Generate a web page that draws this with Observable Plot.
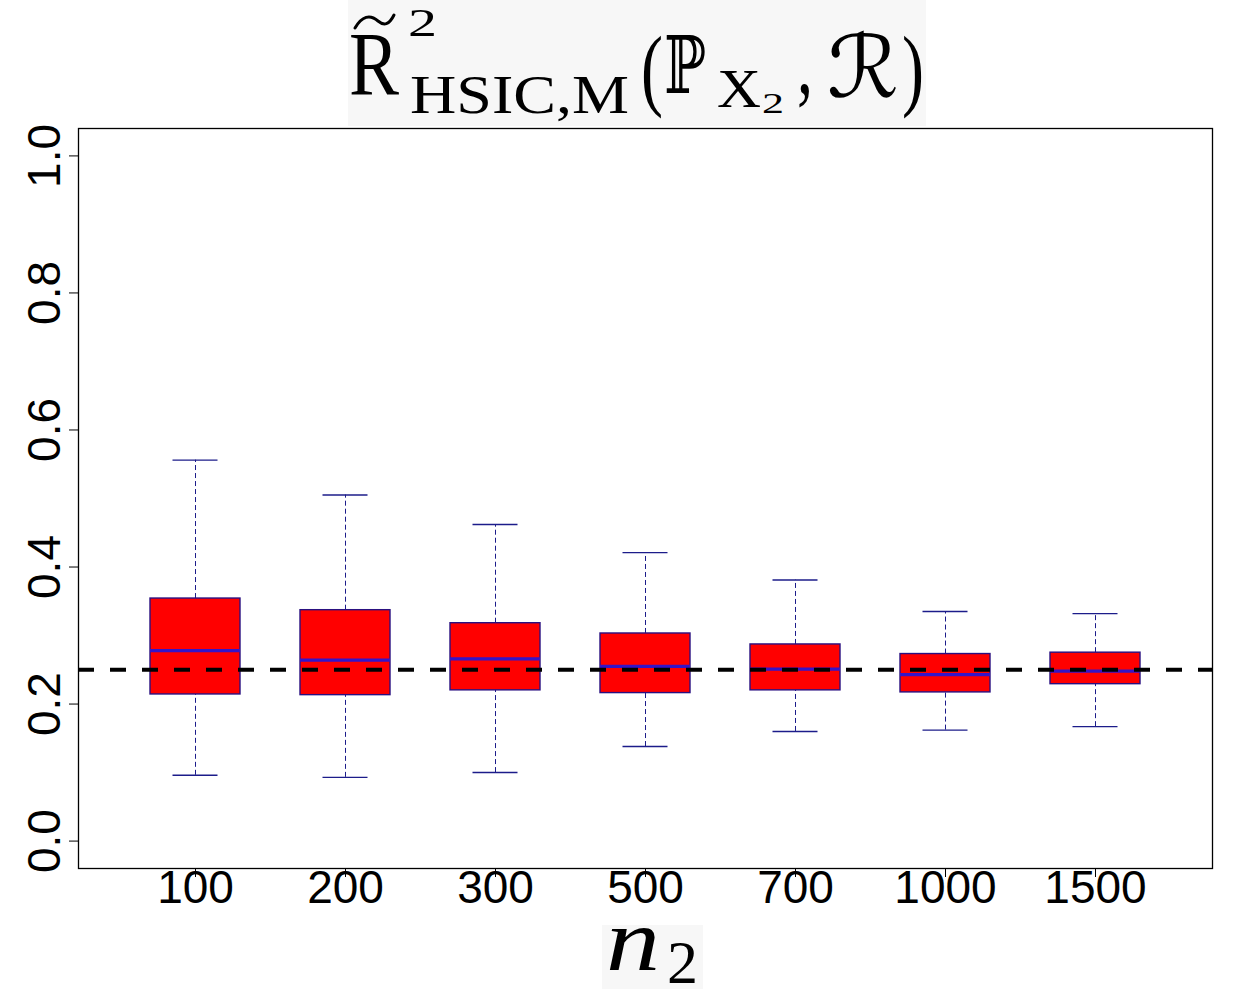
<!DOCTYPE html>
<html><head><meta charset="utf-8">
<script src="https://cdn.jsdelivr.net/npm/d3@7"></script>
<script src="https://cdn.jsdelivr.net/npm/@observablehq/plot@0.6"></script>
<style>
body{margin:0;background:#fff;}
#wrap{position:relative;width:1253px;height:989px;overflow:hidden;background:#fff;}
#wrap > svg{position:absolute;left:0;top:0;}
.serif{font-family:"Liberation Serif","DejaVu Serif",serif;fill:#000;}
.math{font-family:"DejaVu Serif","DejaVu Sans","Noto Sans",serif;fill:#000;}
</style></head><body>
<div id="wrap"></div>
<script>
// ---- data ----
const n2Labels = ["100", "200", "300", "500", "700", "1000", "1500"];
const lowerWhisker = [0.096, 0.093, 0.100, 0.138, 0.160, 0.162, 0.167];
const q1 = [0.214, 0.213, 0.220, 0.216, 0.220, 0.217, 0.229];
const median = [0.278, 0.264, 0.266, 0.255, 0.251, 0.243, 0.248];
const q3 = [0.354, 0.337, 0.318, 0.303, 0.287, 0.273, 0.275];
const upperWhisker = [0.556, 0.505, 0.462, 0.421, 0.381, 0.335, 0.332];
const referenceValue = 0.25;
const yTicks = [0, 0.2, 0.4, 0.6, 0.8, 1.0];

const rows = n2Labels.map((label, i) => ({
  pos: i + 1, label,
  lo: lowerWhisker[i], q1: q1[i], med: median[i], q3: q3[i], hi: upperWhisker[i]
}));
const positions = rows.map(d => d.pos);

const boxHalf = 0.3, stapleHalf = 0.15;
const whiskerColor = "#1c1c8a";

const chart = Plot.plot({
  width: 1253, height: 989,
  marginTop: 128, marginBottom: 121, marginLeft: 78, marginRight: 41,
  style: {fontFamily: "'Liberation Sans', Arial, sans-serif", fontSize: "46px", background: "transparent", color: "black"},
  x: {domain: [0.22, 7.78], axis: null},
  y: {domain: [-0.04, 1.04], axis: null},
  marks: [
    Plot.ruleX(rows, {x: "pos", y1: "q3", y2: "hi", stroke: whiskerColor, strokeWidth: 1, strokeDasharray: "5,3"}),
    Plot.ruleX(rows, {x: "pos", y1: "lo", y2: "q1", stroke: whiskerColor, strokeWidth: 1, strokeDasharray: "5,3"}),
    Plot.ruleY(rows, {y: "hi", x1: d => d.pos - stapleHalf, x2: d => d.pos + stapleHalf, stroke: whiskerColor, strokeWidth: 1.4}),
    Plot.ruleY(rows, {y: "lo", x1: d => d.pos - stapleHalf, x2: d => d.pos + stapleHalf, stroke: whiskerColor, strokeWidth: 1.4}),
    Plot.rect(rows, {x1: d => d.pos - boxHalf, x2: d => d.pos + boxHalf, y1: "q1", y2: "q3", fill: "#ff0000", stroke: "#2a1080", strokeWidth: 1.4}),
    Plot.ruleY(rows, {y: "med", x1: d => d.pos - boxHalf, x2: d => d.pos + boxHalf, stroke: "#3414c8", strokeWidth: 3.2}),
    Plot.ruleY([referenceValue], {stroke: "black", strokeWidth: 4, strokeDasharray: "16,16"}),
    Plot.frame({stroke: "black", strokeWidth: 1.3}),
    Plot.axisY({ticks: yTicks, tickFormat: d3.format(".1f"), tickRotate: -90, tickSize: 9, tickPadding: 10, fontSize: 46, stroke: "black", fill: "black", label: null}),
    Plot.axisX({ticks: positions, tickFormat: p => n2Labels[p - 1], tickSize: 0, tickPadding: 2, fontSize: 46, fill: "black", label: null}),
    Plot.axisX({ticks: positions, text: null, tickSize: 9, stroke: "black", label: null})
  ]
});

const wrap = document.getElementById("wrap");
wrap.appendChild(chart);

const NS = "http://www.w3.org/2000/svg";
function overlay(html) {
  const s = document.createElementNS(NS, "svg");
  s.setAttribute("width", 1253); s.setAttribute("height", 989);
  s.style.pointerEvents = "none";
  s.innerHTML = html;
  wrap.appendChild(s);
}
overlay(`
  <rect x="348" y="0" width="578" height="126" fill="#f7f7f7"/>
  <text class="serif" x="349" y="95" font-size="90" textLength="50" lengthAdjust="spacingAndGlyphs">R</text>
  <path d="M355,28 C362,16 370,14 378,21 C384,26 389,25 394,15" fill="none" stroke="#000" stroke-width="3" stroke-linecap="round"/>
  <text class="serif" x="408" y="36" font-size="40" textLength="29" lengthAdjust="spacingAndGlyphs">2</text>
  <text class="serif" x="410" y="113" font-size="54" textLength="219" lengthAdjust="spacingAndGlyphs">HSIC,M</text>
  <text class="serif" x="641" y="99" font-size="92" textLength="22" lengthAdjust="spacingAndGlyphs">(</text>
  <text class="math" x="664" y="93" font-size="80" textLength="42" lengthAdjust="spacingAndGlyphs">ℙ</text>
  <text class="serif" x="717" y="107" font-size="54" textLength="44" lengthAdjust="spacingAndGlyphs">X</text>
  <text class="serif" x="762" y="113" font-size="30" textLength="22" lengthAdjust="spacingAndGlyphs">2</text>
  <text class="serif" x="797" y="93" font-size="90" textLength="16" lengthAdjust="spacingAndGlyphs">,</text>
  <text class="math" x="827" y="97" font-size="86" textLength="72" lengthAdjust="spacingAndGlyphs">ℛ</text>
  <text class="serif" x="902" y="99" font-size="92" textLength="22" lengthAdjust="spacingAndGlyphs">)</text>
  <rect x="602" y="925" width="101" height="64" fill="#f7f7f7"/>
  <text class="serif" x="606" y="970" font-size="88" font-style="italic" textLength="54" lengthAdjust="spacingAndGlyphs">n</text>
  <text class="serif" x="667" y="983" font-size="61" textLength="31" lengthAdjust="spacingAndGlyphs">2</text>
`);
</script>
</body></html>
